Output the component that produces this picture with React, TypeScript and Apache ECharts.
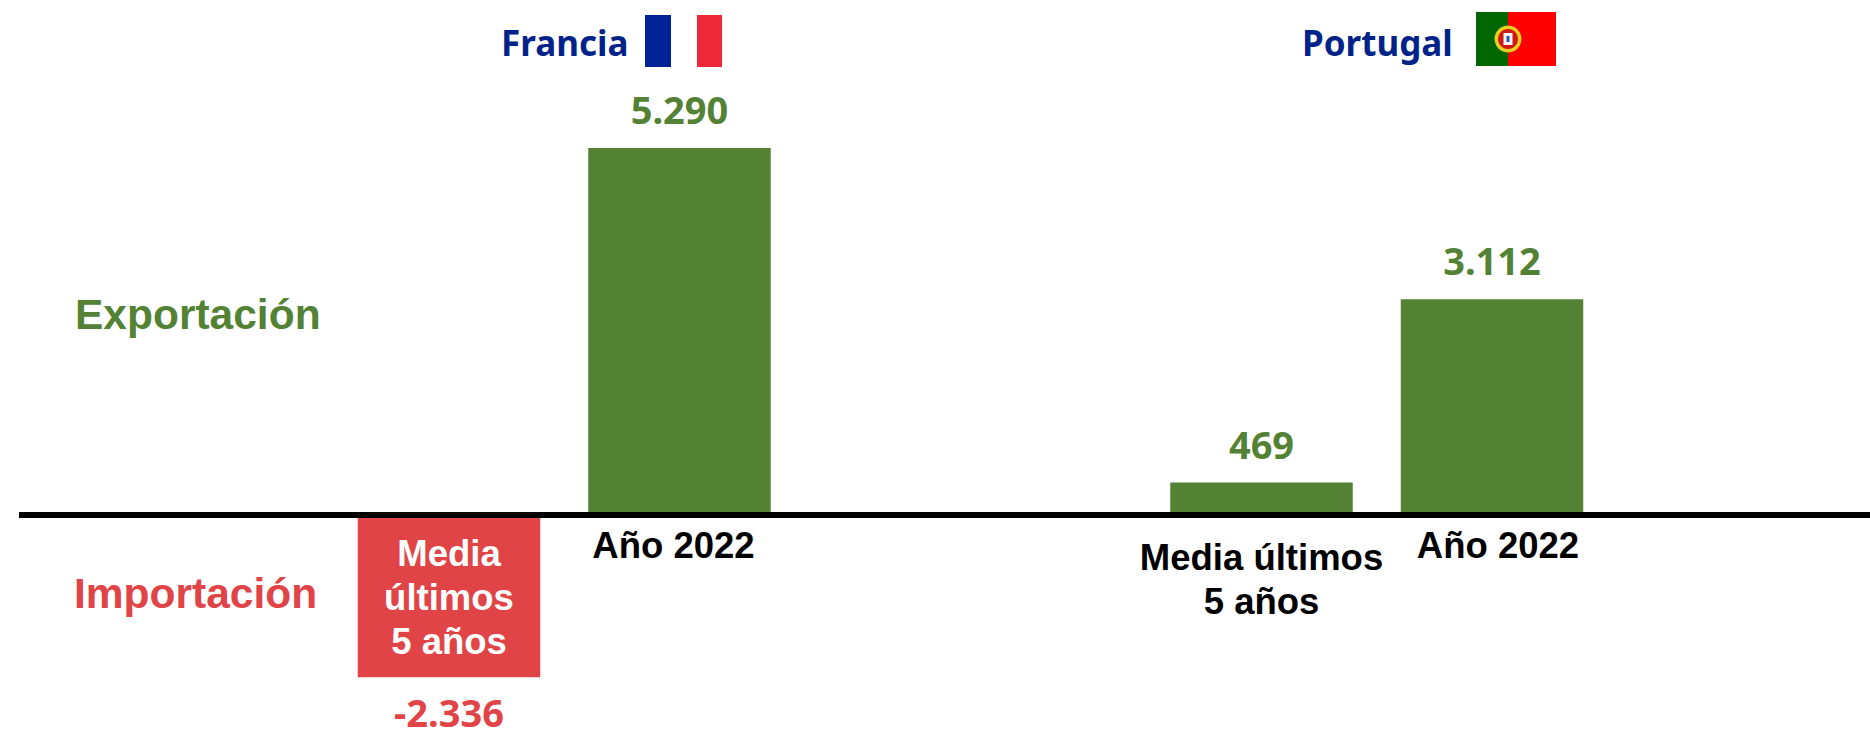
import React, { useEffect, useRef } from "react";
import * as echarts from "echarts";

const franciaCategories = ["Media\núltimos\n5 años", "Año 2022"];
const franciaValues = [-2336, 5290];
const portugalCategories = ["Media últimos\n5 años", "Año 2022"];
const portugalValues = [469, 3112];
const countries = ["Francia", "Portugal"];
const sideLabels = ["Exportación", "Importación"];

const GREEN = "#548235";
const RED = "#E04447";
const NAVY = "#00238A";
const SANS = "'Liberation Sans', Arial, sans-serif";
const NOTO = "'Noto Sans', sans-serif";

const fmt = (v: number) => {
  const s = String(Math.abs(v)).replace(/\B(?=(\d{3})+$)/g, ".");
  return (v < 0 ? "-" : "") + s;
};

const YMIN = -3000;
const YMAX = 7000;
const GRID_TOP = 29.4;
const GRID_HEIGHT = 693.8;
// Distance from the bottom of the plot up to the zero line.
const ZERO_OFFSET = (GRID_HEIGHT * (0 - YMIN)) / (YMAX - YMIN);

export default function App() {
  const ref = useRef<HTMLDivElement>(null);
  useEffect(() => {
    document.body.style.margin = "0";
    const chart = echarts.init(ref.current!, null, { renderer: "svg" });
    const grid = { top: GRID_TOP, height: GRID_HEIGHT, outerBoundsMode: "none" };
    const barSeries = (idx: number, values: number[]) => ({
      type: "bar",
      xAxisIndex: idx,
      yAxisIndex: idx,
      data: values.map((v) => ({
        value: v,
        itemStyle: { color: v < 0 ? RED : GREEN },
        label: { color: v < 0 ? RED : GREEN, distance: v < 0 ? 16 : 20 },
      })),
      barWidth: 182.5,
      label: {
        show: true,
        position: "outside",
        formatter: (p: any) => fmt(p.value),
        fontFamily: NOTO,
        fontWeight: "bold",
        fontSize: 38,
      },
    });
    const xBase = {
      type: "category",
      z: 5,
      offset: -ZERO_OFFSET,
      axisLine: { show: false, onZero: false },
      axisTick: { show: false },
      axisLabel: {
        show: true,
        interval: 0,
        margin: 8,
        fontFamily: SANS,
        fontWeight: "bold",
        fontSize: 36.5,
        lineHeight: 44,
        color: "#000",
      },
    };
    const yBase = { type: "value", min: YMIN, max: YMAX, show: false, splitLine: { show: false } };
    chart.setOption({
      animation: false,
      backgroundColor: "#fff",
      grid: [
        { left: 333.75, width: 461, ...grid },
        { left: 1146.25, width: 461, ...grid },
        { left: 19, right: 0, ...grid },
      ],
      xAxis: [
        {
          ...xBase,
          gridIndex: 0,
          data: [
            { value: franciaCategories[0], textStyle: { color: "#fff", padding: [8, 0, 0, 0] } },
            { value: franciaCategories[1], textStyle: { padding: [0, 12, 0, 0] } },
          ],
        },
        {
          ...xBase,
          gridIndex: 1,
          data: [
            { value: portugalCategories[0], textStyle: { padding: [12, 0, 0, 0] } },
            { value: portugalCategories[1], textStyle: { padding: [0, 0, 0, 12] } },
          ],
        },
        {
          type: "category",
          gridIndex: 2,
          z: 6,
          data: [""],
          axisTick: { show: false },
          axisLabel: { show: false },
          axisLine: { show: true, onZero: true, lineStyle: { color: "#000", width: 6, cap: "butt" } },
        },
      ],
      yAxis: [
        { ...yBase, gridIndex: 0 },
        { ...yBase, gridIndex: 1 },
        { ...yBase, gridIndex: 2 },
      ],
      series: [barSeries(0, franciaValues), barSeries(1, portugalValues)],
      graphic: [
        { type: "text", x: 501, y: 42, style: { text: countries[0], fill: NAVY, font: `bold 35px ${NOTO}`, textVerticalAlign: "middle" } },
        { type: "text", x: 1302, y: 42, style: { text: countries[1], fill: NAVY, font: `bold 35px ${NOTO}`, textVerticalAlign: "middle" } },
        { type: "text", x: 75, y: 314, style: { text: sideLabels[0], fill: GREEN, font: `bold 42.5px ${SANS}`, textVerticalAlign: "middle" } },
        { type: "text", x: 74, y: 593, style: { text: sideLabels[1], fill: RED, font: `bold 42.5px ${SANS}`, textVerticalAlign: "middle" } },
        // French flag
        { type: "rect", shape: { x: 645, y: 15, width: 26, height: 52 }, style: { fill: "#002395" } },
        { type: "rect", shape: { x: 697, y: 15, width: 25, height: 52 }, style: { fill: "#ED2939" } },
        // Portuguese flag
        { type: "rect", shape: { x: 1476, y: 12, width: 32, height: 54 }, style: { fill: "#006600" } },
        { type: "rect", shape: { x: 1508, y: 12, width: 48, height: 54 }, style: { fill: "#FF0000" } },
        { type: "circle", shape: { cx: 1508, cy: 39, r: 13.5 }, style: { fill: "#E8D020" } },
        { type: "circle", shape: { cx: 1508, cy: 39, r: 10 }, style: { fill: "#D01818" } },
        { type: "rect", shape: { x: 1503.5, y: 33, width: 9, height: 12 }, style: { fill: "#F4F4F4" } },
        { type: "rect", shape: { x: 1506.5, y: 36, width: 3, height: 6 }, style: { fill: "#3050B0" } },
      ],
    });
    return () => chart.dispose();
  }, []);
  return <div ref={ref} style={{ width: 1870, height: 735 }} />;
}
